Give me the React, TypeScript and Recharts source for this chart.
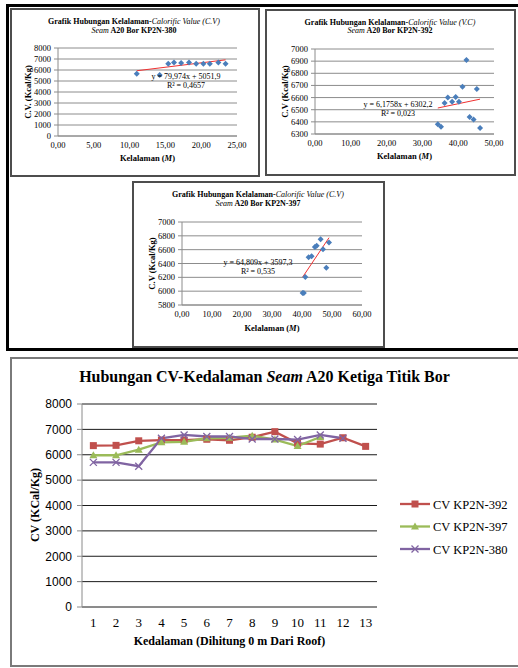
import React from 'react';
import { ScatterChart, Scatter, XAxis, YAxis, CartesianGrid, ReferenceLine, LineChart, Line } from 'recharts';

const SERIF = '"Liberation Serif", "Times New Roman", serif';
const SANS = '"Liberation Sans", Arial, sans-serif';

// ---- Scatter KP2N-380 ----
const depth380 = [11.0, 14.2, 15.4, 16.2, 17.2, 18.3, 19.3, 20.3, 21.2, 22.4, 23.4];
const cv380 = [5650, 5540, 6570, 6690, 6630, 6690, 6570, 6570, 6570, 6690, 6570];
const trend380 = { slope: 79.974, intercept: 5051.9 };
const xTicks380 = [0, 5, 10, 15, 20, 25];
const yTicks380 = [0, 1000, 2000, 3000, 4000, 5000, 6000, 7000, 8000];

// ---- Scatter KP2N-392 ----
const depth392 = [34.3, 35.2, 36.2, 37.1, 38.3, 39.3, 40.2, 41.2, 42.3, 43.2, 44.3, 45.2, 46.1];
const cv392 = [6380, 6360, 6555, 6600, 6565, 6605, 6565, 6690, 6910, 6440, 6420, 6670, 6350];
const trend392 = { slope: 6.1758, intercept: 6302.2 };
const xTicks392 = [0, 10, 20, 30, 40, 50];
const yTicks392 = [6300, 6400, 6500, 6600, 6700, 6800, 6900, 7000];

// ---- Scatter KP2N-397 ----
const depth397 = [40.2, 40.6, 41.1, 42.2, 43.2, 44.3, 44.9, 46.2, 47.0, 48.1, 49.0];
const cv397 = [5975, 5975, 6205, 6490, 6505, 6640, 6655, 6750, 6605, 6340, 6705];
const trend397 = { slope: 64.809, intercept: 3597.3 };
const xTicks397 = [0, 10, 20, 30, 40, 50, 60];
const yTicks397 = [5800, 6000, 6200, 6400, 6600, 6800, 7000];

// ---- Line chart ----
const lineCategories = [1, 2, 3, 4, 5, 6, 7, 8, 9, 10, 11, 12, 13];
const lineKP2N392 = [6360, 6370, 6550, 6580, 6580, 6610, 6570, 6690, 6910, 6450, 6420, 6670, 6330];
const lineKP2N397 = [5980, 5980, 6200, 6490, 6510, 6650, 6670, 6750, 6600, 6340, 6700];
const lineKP2N380 = [5700, 5700, 5550, 6650, 6780, 6720, 6720, 6620, 6620, 6600, 6780, 6650];
const lineYTicks = [0, 1000, 2000, 3000, 4000, 5000, 6000, 7000, 8000];
const seriesNames = ['CV KP2N-392', 'CV KP2N-397', 'CV KP2N-380'];

const RED = '#C0504D';
const GREEN = '#9BBB59';
const PURPLE = '#8064A2';
const BLUE = '#4A7EBB';

const fmtComma = (v: number) => v.toFixed(2).replace('.', ',');

const Diamond = (p: any) => {
  const { cx, cy } = p;
  if (cx == null || cy == null) return <g />;
  return <path d={`M${cx},${cy - 3}L${cx + 3},${cy}L${cx},${cy + 3}L${cx - 3},${cy}Z`} fill={BLUE} />;
};

const SquareDot = (p: any) => {
  if (p.cx == null || p.cy == null || p.value == null) return <g key={p.index} />;
  return <rect key={p.index} x={p.cx - 3.5} y={p.cy - 3.5} width={7} height={7} fill={RED} />;
};
const TriDot = (p: any) => {
  if (p.cx == null || p.cy == null || p.value == null) return <g key={p.index} />;
  const { cx, cy } = p;
  return <path key={p.index} d={`M${cx},${cy - 4}L${cx + 4},${cy + 3}L${cx - 4},${cy + 3}Z`} fill={GREEN} />;
};
const XDot = (p: any) => {
  if (p.cx == null || p.cy == null || p.value == null) return <g key={p.index} />;
  const { cx, cy } = p;
  return (
    <path key={p.index} d={`M${cx - 3.5},${cy - 3.5}L${cx + 3.5},${cy + 3.5}M${cx - 3.5},${cy + 3.5}L${cx + 3.5},${cy - 3.5}`} stroke={PURPLE} strokeWidth={1.3} fill="none" />
  );
};

type PanelProps = {
  left: number; top: number; w: number; h: number;
  yAxisW: number; xAxisH: number; mTop: number; mRight: number;
  depths: number[]; values: number[];
  xDomain: [number, number]; xTicks: number[];
  yDomain: [number, number]; yTicks: number[];
  trend: { slope: number; intercept: number };
  yTitle: string; yTitleX: number; xTitleY: number;
};

function ScatterPanel(props: PanelProps) {
  const { left, top, w, h, yAxisW, xAxisH, mTop, mRight, depths, values, xDomain, xTicks, yDomain, yTicks, trend, yTitle, yTitleX, xTitleY } = props;
  const pts = depths.map((d, i) => ({ x: d, y: values[i] }));
  const x0 = Math.min(...depths);
  const x1 = Math.max(...depths);
  const plotW = w - yAxisW - mRight;
  const plotH = h - mTop - xAxisH;
  const xCenter = yAxisW + plotW / 2;
  const yCenter = mTop + plotH / 2;
  return (
    <div style={{ position: 'absolute', left, top }}>
      <ScatterChart width={w} height={h} margin={{ top: mTop, right: mRight, left: 0, bottom: 0 }}>
        <CartesianGrid vertical={false} stroke="#8c8c8c" />
        <XAxis
          type="number" dataKey="x" domain={xDomain} ticks={xTicks} interval={0} height={xAxisH}
          tickFormatter={fmtComma} tickLine={false} tickSize={3} tickMargin={3}
          axisLine={{ stroke: '#8c8c8c' }}
          tick={{ fontFamily: SERIF, fontSize: 8.5, fill: '#000' }}
          label={{
            content: () => (
              <text x={xCenter} y={xTitleY} textAnchor="middle" fontFamily={SERIF} fontSize={8.5} fontWeight="bold" fill="#000">
                Kelalaman (<tspan fontStyle="italic">M</tspan>)
              </text>
            ),
          }}
        />
        <YAxis
          type="number" dataKey="y" domain={yDomain} ticks={yTicks} interval={0} width={yAxisW}
          tickSize={4} tickMargin={3} axisLine={{ stroke: '#8c8c8c' }} tickLine={{ stroke: '#8c8c8c' }}
          tick={{ fontFamily: SERIF, fontSize: 8.5, fill: '#000' }}
          label={{
            content: () => (
              <text x={yTitleX} y={yCenter} dy="0.35em" textAnchor="middle" transform={`rotate(-90 ${yTitleX} ${yCenter})`}
                fontFamily={SERIF} fontSize={8.5} fontWeight="bold" fill="#000">
                {yTitle}
              </text>
            ),
          }}
        />
        <Scatter data={pts} shape={Diamond} fill={BLUE} isAnimationActive={false} />
        <ReferenceLine
          segment={[
            { x: x0, y: trend.slope * x0 + trend.intercept },
            { x: x1, y: trend.slope * x1 + trend.intercept },
          ]}
          stroke="#F03030" strokeWidth={1}
        />
      </ScatterChart>
    </div>
  );
}

function Box({ l, t, w, h, b, c }: { l: number; t: number; w: number; h: number; b: number; c: string }) {
  return <div style={{ position: 'absolute', left: l, top: t, width: w, height: h, border: `${b}px solid ${c}`, boxSizing: 'border-box' }} />;
}
function Bar({ l, t, w, h }: { l: number; t: number; w: number; h: number }) {
  return <div style={{ position: 'absolute', left: l, top: t, width: w, height: h, background: '#000' }} />;
}

const lineData = lineCategories.map((c, i) => ({
  depth: c,
  kp392: lineKP2N392[i] ?? null,
  kp397: lineKP2N397[i] ?? null,
  kp380: lineKP2N380[i] ?? null,
}));

function PanelTitle({ cx, y, well, vc }: { cx: number; y: number; well: string; vc: string }) {
  return (
    <>
      <text x={cx} y={y} textAnchor="middle" fontFamily={SERIF} fontSize={8} fill="#000">
        <tspan fontWeight="bold">Grafik Hubungan Kelalaman-</tspan>
        <tspan fontStyle="italic">Calorific Value ({vc})</tspan>
      </text>
      <text x={cx} y={y + 8.6} textAnchor="middle" fontFamily={SERIF} fontSize={8} fill="#000">
        <tspan fontStyle="italic">Seam</tspan>
        <tspan fontWeight="bold"> A20 Bor {well}</tspan>
      </text>
    </>
  );
}

function Equation({ cx, y, eq, r2, gap }: { cx: number; y: number; eq: string; r2: string; gap: number }) {
  return (
    <>
      <text x={cx} y={y} textAnchor="middle" fontFamily={SERIF} fontSize={8} fill="#000">{eq}</text>
      <text x={cx} y={y + gap} textAnchor="middle" fontFamily={SERIF} fontSize={8} fill="#000">{r2}</text>
    </>
  );
}

export default function App() {
  return (
    <div style={{ position: 'absolute', left: 0, top: 0, width: 518, height: 668, overflow: 'hidden', background: '#fff' }}>
      {/* outer frame of the top region */}
      <Bar l={6} t={4} w={520} h={3} />
      <Bar l={6} t={4} w={3} h={347} />
      <Bar l={6} t={348} w={520} h={3} />

      <ScatterPanel
        left={10} top={8} w={249} h={168} yAxisW={48} xAxisH={40} mTop={40} mRight={22}
        depths={depth380} values={cv380} xDomain={[0, 25]} xTicks={xTicks380}
        yDomain={[0, 8000]} yTicks={yTicks380} trend={trend380}
        yTitle="C.V. (Kcal/Kg)" yTitleX={18} xTitleY={153}
      />
      <ScatterPanel
        left={266} top={9} w={250} h={166} yAxisW={49} xAxisH={41} mTop={40} mRight={22}
        depths={depth392} values={cv392} xDomain={[0, 50]} xTicks={xTicks392}
        yDomain={[6300, 7000]} yTicks={yTicks392} trend={trend392}
        yTitle="C.V (Kcal/Kg)" yTitleX={19} xTitleY={150}
      />
      <ScatterPanel
        left={132} top={181} w={252} h={166} yAxisW={50} xAxisH={42} mTop={41} mRight={22}
        depths={depth397} values={cv397} xDomain={[0, 60]} xTicks={xTicks397}
        yDomain={[5800, 7000]} yTicks={yTicks397} trend={trend397}
        yTitle="C.V (Kcal/Kg)" yTitleX={20} xTitleY={150}
      />

      <Box l={10} t={8} w={250} h={169} b={2} c="#4d4d4d" />
      <Box l={265} t={9} w={251} h={167} b={2} c="#4d4d4d" />
      <Box l={132} t={181} w={253} h={167} b={2} c="#4d4d4d" />

      {/* line chart */}
      <div style={{ position: 'absolute', left: 10, top: 357 }}>
        <LineChart width={508} height={309} data={lineData} margin={{ top: 47, right: 141, left: 0, bottom: 0 }}>
          <CartesianGrid vertical={false} stroke="#1a1a1a" />
          <XAxis
            dataKey="depth" height={59} interval={0} padding={{ left: 11.35, right: 11.35 }}
            tickLine={false} tickSize={5} tickMargin={6} axisLine={{ stroke: '#8a8a8a' }}
            tick={{ fontFamily: SERIF, fontSize: 13, fill: '#000' }}
            label={{
              content: () => (
                <text x={219.5} y={288} textAnchor="middle" fontFamily={SERIF} fontSize={12} fontWeight="bold" fill="#000">
                  Kedalaman (Dihitung 0 m Dari Roof)
                </text>
              ),
            }}
          />
          <YAxis
            domain={[0, 8000]} ticks={lineYTicks} interval={0} width={72}
            tickSize={5} tickMargin={5} axisLine={{ stroke: '#8a8a8a' }} tickLine={{ stroke: '#8a8a8a' }}
            tick={{ fontFamily: SANS, fontSize: 12, fill: '#000' }}
            label={{
              content: () => (
                <text x={25} y={148} dy="0.35em" textAnchor="middle" transform="rotate(-90 25 148)"
                  fontFamily={SERIF} fontSize={12} fontWeight="bold" fill="#000">
                  CV (KCal/Kg)
                </text>
              ),
            }}
          />
          <Line dataKey="kp392" name={seriesNames[0]} stroke={RED} strokeWidth={2.3} dot={SquareDot} activeDot={false} isAnimationActive={false} />
          <Line dataKey="kp397" name={seriesNames[1]} stroke={GREEN} strokeWidth={2.3} dot={TriDot} activeDot={false} isAnimationActive={false} />
          <Line dataKey="kp380" name={seriesNames[2]} stroke={PURPLE} strokeWidth={2.3} dot={XDot} activeDot={false} isAnimationActive={false} />
        </LineChart>
      </div>
      <div style={{ position: 'absolute', left: 10, top: 357, width: 530, height: 310, border: '2px solid #7a7a7a', boxSizing: 'border-box' }} />

      {/* text overlay */}
      <svg width={518} height={668} style={{ position: 'absolute', left: 0, top: 0, pointerEvents: 'none' }}>
        <PanelTitle cx={134} y={24} well="KP2N-380" vc="C.V" />
        <PanelTitle cx={390} y={24.5} well="KP2N-392" vc="V.C" />
        <PanelTitle cx={258} y={197} well="KP2N-397" vc="C.V" />

        <Equation cx={186} y={78.5} eq="y = 79,974x + 5051,9" r2="R² = 0,4657" gap={9} />
        <Equation cx={398} y={107} eq="y = 6,1758x + 6302,2" r2="R² = 0,023" gap={9} />
        <Equation cx={258} y={264.5} eq="y = 64,809x + 3597,3" r2="R² = 0,535" gap={9} />

        <text x={264.5} y={382} textAnchor="middle" fontFamily={SERIF} fontSize={16} fontWeight="bold" fill="#000">
          Hubungan CV-Kedalaman <tspan fontStyle="italic">Seam</tspan> A20 Ketiga Titik Bor
        </text>

        {[RED, GREEN, PURPLE].map((col, i) => {
          const y = 504 + i * 22.5;
          return (
            <g key={i}>
              <line x1={400} y1={y} x2={430} y2={y} stroke={col} strokeWidth={2.3} />
              {i === 0 && <rect x={411.5} y={y - 3.5} width={7} height={7} fill={RED} />}
              {i === 1 && <path d={`M415,${y - 4}L419,${y + 3}L411,${y + 3}Z`} fill={GREEN} />}
              {i === 2 && <path d={`M411.5,${y - 3.5}L418.5,${y + 3.5}M411.5,${y + 3.5}L418.5,${y - 3.5}`} stroke={PURPLE} strokeWidth={1.3} />}
              <text x={433} y={y + 4.5} fontFamily={SERIF} fontSize={12.5} fill="#000">{seriesNames[i]}</text>
            </g>
          );
        })}
      </svg>
    </div>
  );
}
